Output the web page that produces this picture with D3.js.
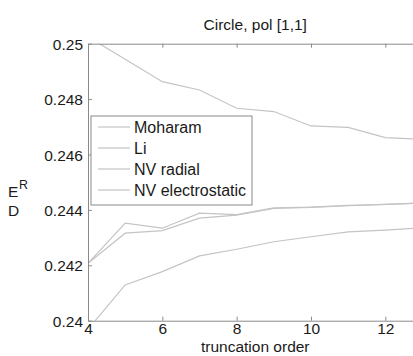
<!DOCTYPE html>
<html>
<head>
<meta charset="utf-8">
<script src="https://cdn.jsdelivr.net/npm/d3@7/dist/d3.min.js"></script>
<style>
  html, body { margin: 0; padding: 0; background: #fff; }
  svg { display: block; font-family: "Liberation Sans", Arial, Helvetica, sans-serif; }
</style>
</head>
<body>
<svg id="chart" width="413" height="356"></svg>
<script>
// Reflectance efficiency vs. truncation order for four formulations
const orders = [4, 5, 6, 7, 8, 9, 10, 11, 12, 13];
const moharam = [0.25025, 0.24944, 0.24863, 0.24833, 0.24767, 0.24755, 0.24703, 0.24698, 0.24661, 0.24655];
const li = [0.24207, 0.24352, 0.24334, 0.24388, 0.24383, 0.24407, 0.24410, 0.24416, 0.24420, 0.24425];
const nvRadial = [0.24207, 0.24316, 0.24325, 0.24370, 0.24381, 0.24405, 0.24409, 0.24415, 0.24420, 0.24425];
const nvElectrostatic = [0.23969, 0.24129, 0.24177, 0.24234, 0.24258, 0.24285, 0.24303, 0.24321, 0.24327, 0.24335];

const seriesNames = ["Moharam", "Li", "NV radial", "NV electrostatic"];
const seriesValues = [moharam, li, nvRadial, nvElectrostatic];

const xTicks = [4, 6, 8, 10, 12];
const yTicks = [0.24, 0.242, 0.244, 0.246, 0.248, 0.25];
const yTickLabels = ["0.24", "0.242", "0.244", "0.246", "0.248", "0.25"];

const titleText = "Circle, pol [1,1]";
const xLabelText = "truncation order";

const lineColor = "#c4c4c4";
const axisColor = "#8a8a8a";
const textColor = "#1a1a1a";
const fontSize = 15.5;

const svg = d3.select("#chart");
const plotL = 88, plotR = 422.5, plotT = 43.7, plotB = 320.7;

const x = d3.scaleLinear().domain([4, 13]).range([plotL, plotR]);
const y = d3.scaleLinear().domain([0.24, 0.25]).range([plotB, plotT]);

svg.append("rect").attr("width", 413).attr("height", 356).attr("fill", "#fff");

svg.append("defs").append("clipPath").attr("id", "plot-clip")
  .append("rect").attr("x", plotL).attr("y", plotT)
  .attr("width", plotR - plotL).attr("height", plotB - plotT);

// Data lines
const line = d3.line().x((d, i) => x(orders[i])).y(d => y(d));
svg.append("g").attr("clip-path", "url(#plot-clip)")
  .selectAll("path").data(seriesValues).join("path")
  .attr("d", line)
  .attr("fill", "none")
  .attr("stroke", lineColor)
  .attr("stroke-width", 1.2);

// Axes (ticks pointing inward, boxed)
const tickLen = 4;
const xAxisBottom = svg.append("g").attr("transform", `translate(0,${plotB})`)
  .call(d3.axisBottom(x).tickValues(xTicks).tickSizeInner(-tickLen).tickSizeOuter(0).tickPadding(2));
const xAxisTop = svg.append("g").attr("transform", `translate(0,${plotT})`)
  .call(d3.axisTop(x).tickValues(xTicks).tickSizeInner(-tickLen).tickSizeOuter(0).tickFormat(""));
const yAxisLeft = svg.append("g").attr("transform", `translate(${plotL},0)`)
  .call(d3.axisLeft(y).tickValues(yTicks).tickSizeInner(-tickLen).tickSizeOuter(0).tickPadding(5)
    .tickFormat((d, i) => yTickLabels[i]));
const yAxisRight = svg.append("g").attr("transform", `translate(${plotR},0)`)
  .call(d3.axisRight(y).tickValues(yTicks).tickSizeInner(-tickLen).tickSizeOuter(0).tickFormat(""));

[xAxisBottom, xAxisTop, yAxisLeft, yAxisRight].forEach(g => {
  g.select(".domain").attr("stroke", axisColor).attr("stroke-width", 1);
  g.selectAll(".tick line").attr("stroke", axisColor);
  g.selectAll(".tick text").attr("fill", textColor)
    .attr("font-size", fontSize).attr("font-family", "Liberation Sans, Arial, sans-serif");
});
xAxisBottom.selectAll(".tick line").attr("y1", 0).attr("y2", -tickLen);
yAxisLeft.selectAll(".tick text").attr("dy", "0.36em");

// Title
svg.append("text").attr("x", (plotL + plotR) / 2).attr("y", 30)
  .attr("text-anchor", "middle").attr("font-size", fontSize).attr("fill", textColor)
  .text(titleText);

// X label
svg.append("text").attr("x", (plotL + plotR) / 2).attr("y", 352)
  .attr("text-anchor", "middle").attr("font-size", fontSize).attr("fill", textColor)
  .text(xLabelText);

// Y label: E^R over D
const yl = svg.append("g").attr("fill", textColor).attr("font-size", fontSize);
yl.append("text").attr("x", 8).attr("y", 197).text("E");
yl.append("text").attr("x", 19).attr("y", 189).attr("font-size", fontSize * 0.8).text("R");
yl.append("text").attr("x", 8).attr("y", 216).text("D");

// Legend
const lg = svg.append("g");
const lgX = 91, lgY = 116, lgW = 161, lgH = 89, rowH = 21;
lg.append("rect").attr("x", lgX).attr("y", lgY).attr("width", lgW).attr("height", lgH)
  .attr("fill", "#fff").attr("stroke", axisColor).attr("stroke-width", 1);
const rows = lg.selectAll("g.row").data(seriesNames).join("g").attr("class", "row")
  .attr("transform", (d, i) => `translate(0,${lgY + 11 + i * rowH})`);
rows.append("line").attr("x1", lgX + 7).attr("x2", lgX + 39).attr("y1", 0).attr("y2", 0)
  .attr("stroke", lineColor).attr("stroke-width", 1.2);
rows.append("text").attr("x", lgX + 43).attr("y", 0).attr("dy", "0.36em")
  .attr("font-size", fontSize + 0.5).attr("fill", textColor).text(d => d);
</script>
</body>
</html>
